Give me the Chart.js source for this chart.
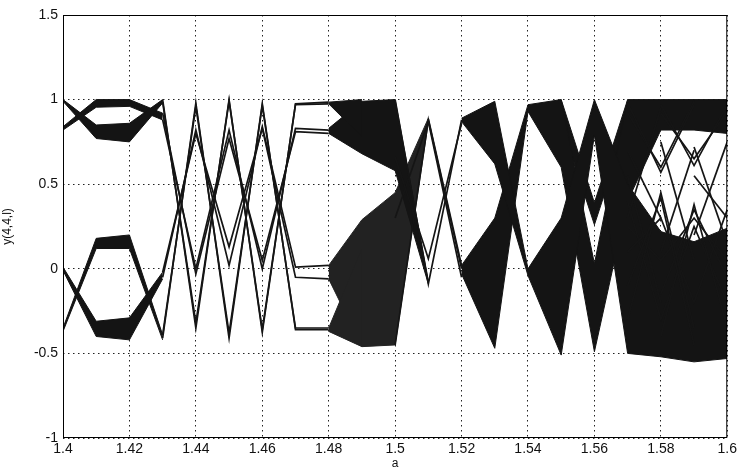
<!DOCTYPE html>
<html lang="en">
<head>
    <meta charset="UTF-8">
    <title>y(4,4,l) vs a</title>
    <script src="https://cdn.jsdelivr.net/npm/chart.js"></script>
    <style>
        body {
            margin: 0;
            background: #fff;
        }
        canvas {
            display: block;
        }
    </style>
</head>
<body>
    <canvas id="chart" width="740" height="472"></canvas>

    <script>
        // parameter a, one column every 0.01
        const a = [1.40, 1.41, 1.42, 1.43, 1.44, 1.45, 1.46, 1.47, 1.48, 1.49, 1.50,
                   1.51, 1.52, 1.53, 1.54, 1.55, 1.56, 1.57, 1.58, 1.59, 1.60];

        const xTicks = [1.40, 1.42, 1.44, 1.46, 1.48, 1.50, 1.52, 1.54, 1.56, 1.58, 1.60];
        const xTickLabels = ['1.4', '1.42', '1.44', '1.46', '1.48', '1.5', '1.52', '1.54', '1.56', '1.58', '1.6'];
        const yTicks = [-1, -0.5, 0, 0.5, 1, 1.5];
        const yTickLabels = ['-1', '-0.5', '0', '0.5', '1', '1.5'];

        // place read values on the a grid, starting at column k
        function at(k, vals) {
            const out = a.map(() => null);
            vals.forEach((v, i) => { out[k + i] = v; });
            return out;
        }

        // 1.40 - 1.43 : the two "eyes" (upper / lower edge of each bundle)
        const eyeTopA_hi = at(0, [1.00, 0.85, 0.86, 1.00]);
        const eyeTopA_lo = at(0, [0.99, 0.77, 0.75, 0.98]);
        const eyeTopB_hi = at(0, [0.84, 1.00, 1.00, 0.92]);
        const eyeTopB_lo = at(0, [0.82, 0.955, 0.96, 0.88]);
        const eyeBotA_hi = at(0, [0.01, -0.31, -0.29, -0.02]);
        const eyeBotA_lo = at(0, [-0.01, -0.40, -0.42, -0.06]);
        const eyeBotB_hi = at(0, [-0.35, 0.18, 0.20, -0.39]);
        const eyeBotB_lo = at(0, [-0.37, 0.12, 0.12, -0.42]);

        // 1.43 - 1.48 : period-4 lines
        const orbit1 = at(3, [-0.41, 0.98, -0.41, 0.976, -0.36, -0.36]);
        const orbit2 = at(3, [-0.39, 0.96, -0.38, 0.965, -0.35, -0.35]);
        const orbit3 = at(3, [1.00, -0.35, 1.00, -0.375, 0.975, 0.985]);
        const orbit4 = at(3, [0.985, -0.32, 0.99, -0.36, 0.97, 0.975]);
        const orbit5 = at(3, [-0.05, 0.82, 0.02, 0.84, 0.01, 0.02]);
        const orbit6 = at(3, [-0.02, 0.80, 0.13, 0.83, -0.05, -0.06]);
        const orbit7 = at(3, [0.88, 0.00, 0.82, 0.00, 0.83, 0.82]);
        const orbit8 = at(3, [0.92, -0.03, 0.77, 0.05, 0.81, 0.80]);

        // 1.48 - 1.51 : fans, then the big X
        const fanC1_hi = at(8, [0.985, 1.00]);
        const fanC1_lo = at(8, [0.975, 0.78]);
        const topC_hi = at(8, [0.83, 0.99, 1.00, -0.07]);
        const topC_lo = at(8, [0.80, 0.68, 0.58, -0.09]);
        const fanC5_hi = at(8, [-0.35, 0.12]);
        const fanC5_lo = at(8, [-0.37, -0.46]);
        const botC_hi = at(8, [0.02, 0.29, 0.45, 0.89]);
        const botC_lo = at(8, [-0.06, -0.46, -0.45, 0.87]);

        // 1.50 - 1.52 : thin crossing lines
        const cross1 = at(10, [1.00, -0.09, 0.88]);
        const cross2 = at(10, [0.66, 0.06, 0.86]);
        const cross3 = at(10, [-0.45, 0.88, 0.00]);
        const cross4 = at(10, [0.30, 0.87, -0.05]);
        const cross5 = at(11, [0.885, 0.02]);

        // 1.52 - 1.60 : two bundles swapping sides, then the chaotic part
        const chainA_hi = at(12, [0.89, 0.99, 0.00, 0.30, 1.00, 0.50, 0.22, 0.16, 0.24]);
        const chainA_lo = at(12, [0.87, 0.62, -0.04, -0.51, 0.79, -0.50, -0.52, -0.55, -0.53]);
        const chainB_hi = at(12, [0.02, 0.30, 0.97, 1.00, 0.03, 1.00, 1.00, 1.00, 1.00]);
        const chainB_lo = at(12, [-0.03, -0.47, 0.93, 0.60, -0.49, 0.40, 0.82, 0.82, 0.80]);
        const veeE9_hi = at(15, [1.00, 0.39, 1.00]);
        const veeE9_lo = at(15, [0.86, 0.26, 0.86]);

        // 1.57 - 1.60 : single lines in the open part
        const vee1 = at(17, [0.98, 0.57, 0.97]);
        const vee2 = at(17, [0.92, 0.60, 0.99]);
        const vee3 = at(18, [0.97, 0.61, 0.97]);
        const vee4 = at(18, [0.92, 0.65, 0.93]);
        const peak1 = at(17, [-0.30, 0.45, -0.35]);
        const peak2 = at(17, [-0.10, 0.42, -0.45]);
        const peak3 = at(18, [-0.40, 0.38, -0.35]);
        const peak4 = at(18, [-0.15, 0.35, -0.05]);
        const diag1 = at(17, [0.30, 0.95]);
        const diag2 = at(17, [0.55, -0.20]);
        const diag3 = at(18, [0.75, 0.05]);
        const diag4 = at(19, [0.72, 0.15]);
        const diag5 = at(19, [0.20, 0.75]);
        const diag6 = at(18, [0.10, 0.70]);
        const diag7 = at(19, [0.55, 0.30]);
        const diag8 = at(17, [0.70, 0.30]);
        const zig1 = at(17, [0.10, 0.30, -0.20, 0.35]);
        const zig2 = at(17, [0.40, -0.30, 0.25, -0.20]);
        const zig3 = at(17, [0.25, 0.05, 0.30, 0.05]);

        const SOLID = '#141414';
        const HATCH = '#222222';
        const LINE = '#151515';

        const bands = [
            [eyeTopA_hi, eyeTopA_lo, SOLID], [eyeTopB_hi, eyeTopB_lo, SOLID],
            [eyeBotA_hi, eyeBotA_lo, SOLID], [eyeBotB_hi, eyeBotB_lo, SOLID],
            [fanC1_hi, fanC1_lo, SOLID], [topC_hi, topC_lo, SOLID],
            [fanC5_hi, fanC5_lo, HATCH], [botC_hi, botC_lo, HATCH],
            [chainA_hi, chainA_lo, SOLID], [chainB_hi, chainB_lo, SOLID],
            [veeE9_hi, veeE9_lo, SOLID]
        ];

        const lines = [
            orbit1, orbit2, orbit3, orbit4, orbit5, orbit6, orbit7, orbit8,
            cross1, cross2, cross3, cross4, cross5,
            vee1, vee2, vee3, vee4, peak1, peak2, peak3, peak4,
            diag1, diag2, diag3, diag4, diag5, diag6, diag7, diag8, zig1, zig2, zig3
        ];

        function pts(arr) {
            return a.map((x, i) => ({ x, y: arr[i] })).filter(p => p.y !== null);
        }

        const datasets = [];
        bands.forEach(([hi, lo, color]) => {
            const order = color === HATCH ? 2 : 1;
            datasets.push({ data: pts(hi), borderColor: color, borderWidth: 1, fill: false, order });
            datasets.push({ data: pts(lo), borderColor: color, borderWidth: 1, fill: '-1', backgroundColor: color, order });
        });
        lines.forEach(s => {
            datasets.push({ data: pts(s), borderColor: LINE, borderWidth: 1.7, fill: false, order: 0 });
        });

        const boxPlugin = {
            id: 'box',
            afterDatasetsDraw(chart) {
                const { ctx, chartArea } = chart;
                ctx.save();
                ctx.strokeStyle = '#000';
                ctx.lineWidth = 1;
                ctx.strokeRect(chartArea.left + 0.5, chartArea.top + 0.5,
                    chartArea.right - chartArea.left - 1, chartArea.bottom - chartArea.top - 1);
                ctx.restore();
            }
        };

        Chart.defaults.font.family = '"Liberation Sans", Arial, sans-serif';
        Chart.defaults.font.size = 14;
        Chart.defaults.color = '#111';

        new Chart(document.getElementById('chart'), {
            type: 'line',
            data: { datasets },
            options: {
                responsive: false,
                animation: false,
                layout: { padding: { left: 0, right: 12, top: 15, bottom: 0 } },
                elements: { point: { radius: 0 }, line: { tension: 0 } },
                plugins: { legend: { display: false }, tooltip: { enabled: false } },
                scales: {
                    x: {
                        type: 'linear',
                        min: 1.4,
                        max: 1.6,
                        afterBuildTicks: s => { s.ticks = xTicks.map(v => ({ value: v })); },
                        afterFit: s => { s.height = 34; },
                        ticks: { padding: 3, maxRotation: 0, autoSkip: false, callback: (v, i) => xTickLabels[i] },
                        grid: { color: '#222', lineWidth: 1, drawTicks: false },
                        border: { display: false, dash: [1.5, 3.5] },
                        title: { display: true, text: 'a', font: { size: 12 }, padding: { top: 0, bottom: 1 } }
                    },
                    y: {
                        min: -1,
                        max: 1.5,
                        afterBuildTicks: s => { s.ticks = yTicks.map(v => ({ value: v })); },
                        afterFit: s => { s.width = 63; },
                        ticks: { padding: 5, autoSkip: false, callback: (v, i) => yTickLabels[i] },
                        grid: { color: '#222', lineWidth: 1, drawTicks: false },
                        border: { display: false, dash: [1.5, 3.5] },
                        title: { display: true, text: 'y(4,4,l)', font: { size: 12 }, padding: { top: 0, bottom: 4 } }
                    }
                }
            },
            plugins: [boxPlugin]
        });
    </script>
</body>
</html>
